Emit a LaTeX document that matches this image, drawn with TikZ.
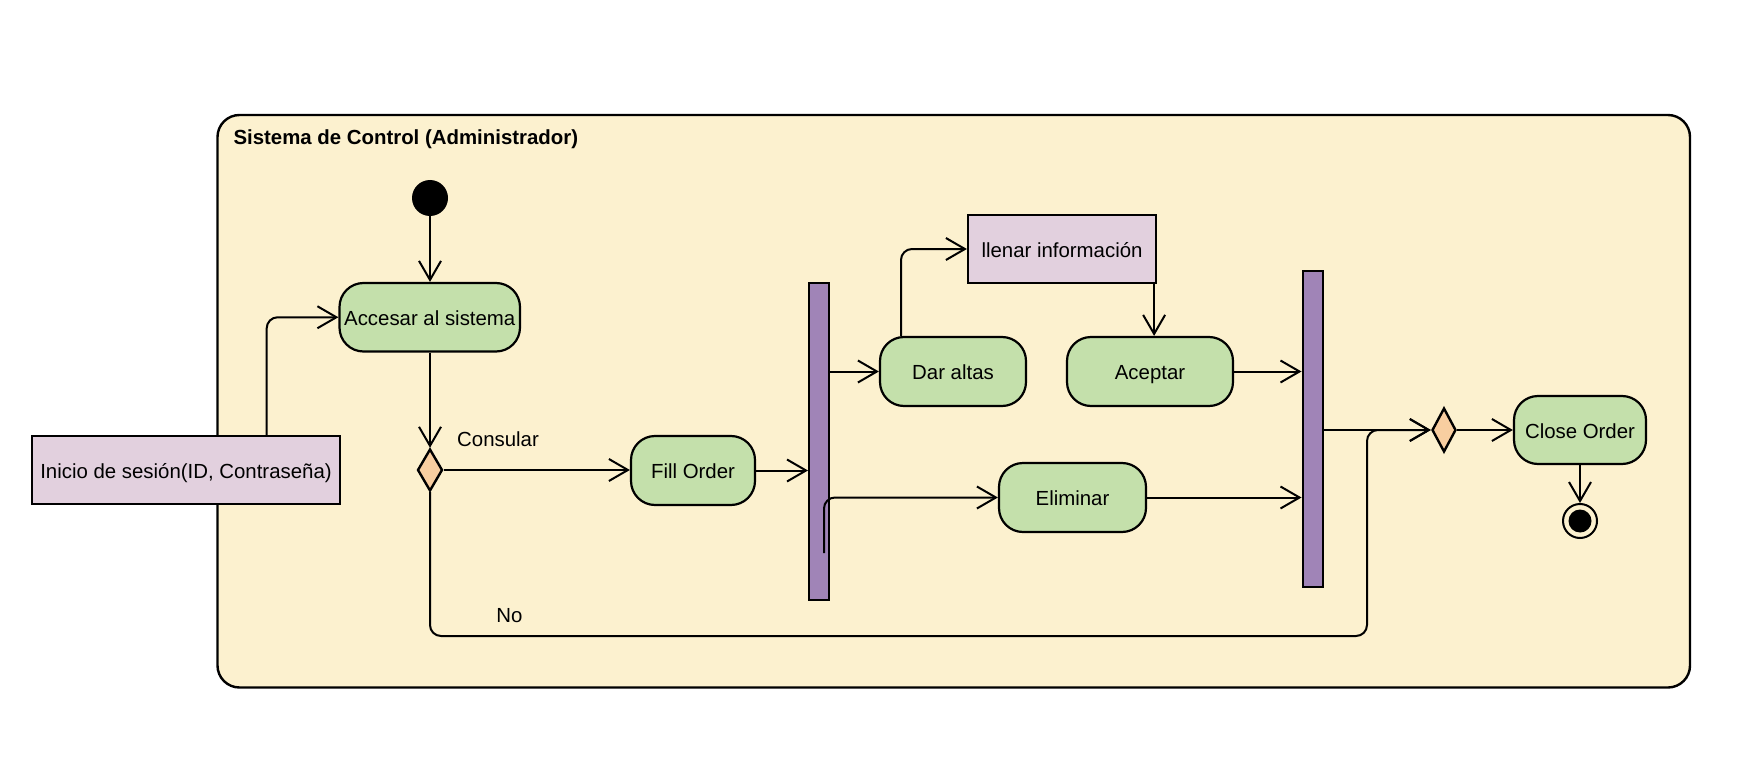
\documentclass[tikz,border=0pt]{standalone}
\usepackage{fontspec}
\setmainfont{Liberation Sans}
\usetikzlibrary{arrows.meta,shapes.geometric}
\definecolor{laneFill}{RGB}{252,241,207}
\definecolor{actGreen}{RGB}{196,224,171}
\definecolor{barPurple}{RGB}{160,132,183}
\definecolor{noteLilac}{RGB}{226,208,222}
\definecolor{decOrange}{RGB}{248,206,160}
\begin{document}
\begin{tikzpicture}[x=1pt,y=-1pt,
  font=\fontsize{20.4}{24}\selectfont,
  boxtext/.style={text height=18pt, text depth=1.5pt},
  action/.style={draw, line width=2.2pt, fill=actGreen, rounded corners=24pt, inner sep=0pt, boxtext},
  notebox/.style={draw, line width=2.2pt, fill=noteLilac, inner sep=0pt, boxtext},
  forkbar/.style={draw, line width=2pt, fill=barPurple, inner sep=0pt, minimum width=20pt},
  decision/.style={draw, line width=2.4pt, fill=decOrange, diamond, inner sep=0pt},
  flow/.style={line width=2pt, -{Straight Barb[length=19pt,width=22pt,line width=2pt]}},
  elbow/.style={rounded corners=11pt}
]
\useasboundingbox (0,0) rectangle (1750,762);

% swimlane container
\draw[line width=2.4pt, fill=laneFill, rounded corners=22pt] (217.5,115) rectangle (1690,687.5);
\node[anchor=base west, font=\fontsize{20.4}{24}\selectfont\bfseries] (title) at (230,145) {Sistema de Control (Administrador)};

% initial and final states
\node[circle, fill=black, inner sep=0pt, minimum size=36pt] (start) at (430,198) {};
\node[circle, draw, line width=2pt, fill=laneFill, inner sep=0pt, minimum size=34pt] (end) at (1580,521) {};
\node[circle, fill=black, inner sep=0pt, minimum size=23pt] (endDot) at (1580,521) {};

% actions
\node[action, minimum width=180.5pt, minimum height=68.5pt] (acc) at (429.75,317.25) {Accesar al sistema};
\node[notebox, minimum width=308pt, minimum height=68pt] (inicio) at (186,470) {Inicio de sesión(ID, Contraseña)};
\node[decision, minimum width=25pt, minimum height=42pt] (d1) at (430,470) {};
\node[action, minimum width=124pt, minimum height=69pt] (fill) at (693,470.5) {Fill Order};
\node[forkbar, minimum height=317pt] (bar1) at (819,441.5) {};
\node[action, minimum width=146pt, minimum height=69pt] (dar) at (953,371.5) {Dar altas};
\node[notebox, minimum width=188pt, minimum height=68pt] (llenar) at (1062,249) {llenar información};
\node[action, minimum width=166pt, minimum height=69pt] (acep) at (1150,371.5) {Aceptar};
\node[action, minimum width=147pt, minimum height=69pt] (elim) at (1072.5,497.5) {Eliminar};
\node[forkbar, minimum height=316pt] (bar2) at (1312.5,429) {};
\node[decision, minimum width=24pt, minimum height=44pt] (d2) at (1444,430) {};
\node[action, minimum width=132pt, minimum height=68pt] (close) at (1580,430) {Close Order};

% guard labels
\node (lblConsular) at (498,439.5) {Consular};
\node (lblNo) at (509.5,615.5) {No};

% route helpers
\coordinate (elimFrom) at (824,553);
\coordinate (noCorner) at (1367,636);

% connectors
\draw[flow] (start) -- (start |- acc.north);
\draw[flow, elbow] ([xshift=80.7pt]inicio.north) |- (acc.west);
\draw[flow] (acc.south -| d1.north) -- (d1.north);
\draw[flow] (d1.east) -- (d1.east -| fill.west);
\draw[flow] (fill.east) -- (fill.east -| bar1.west);
\draw[flow] (bar1.east |- dar.west) -- (dar.west);
\draw[flow, elbow] ([xshift=-52pt]dar.north) |- (llenar.west);
\draw[flow] ([xshift=-3pt]llenar.south east) -- ([xshift=-3pt]llenar.south east |- acep.north);
\draw[flow, elbow] (elimFrom) |- (elim.west);
\draw[flow] (acep.east) -- (acep.east -| bar2.west);
\draw[flow] (elim.east) -- (elim.east -| bar2.west);
\draw[flow] (bar2.east |- d2.west) -- (d2.west);
\draw[flow, elbow] (d1.south) |- (noCorner) |- (d2.west);
\draw[flow] (d2.east) -- (close.west);
\draw[flow] (close.south) -- (end.north);
\end{tikzpicture}
\end{document}
